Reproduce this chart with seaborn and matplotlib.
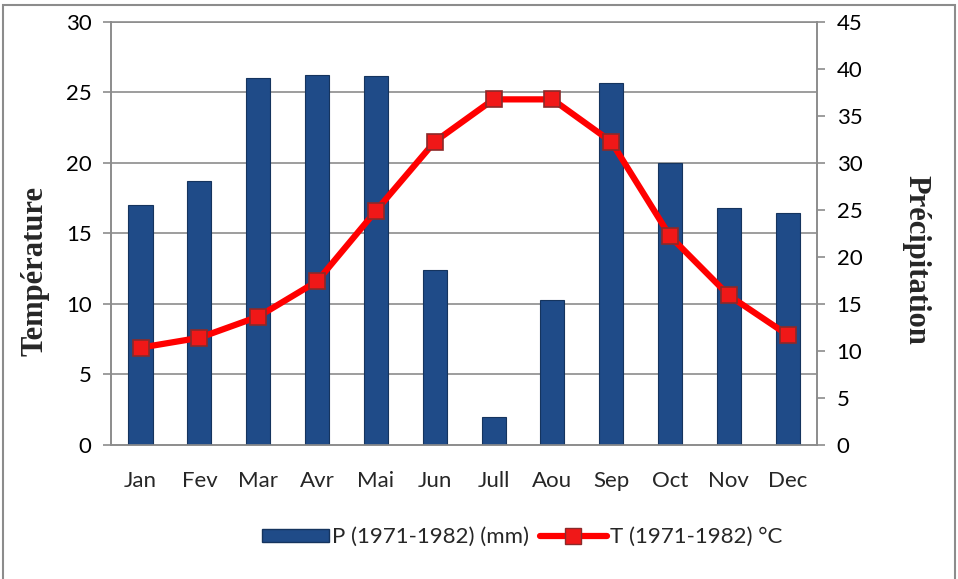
import numpy as np
import pandas as pd
import matplotlib
matplotlib.use("Agg")
import matplotlib.pyplot as plt
import matplotlib.patches as mpatches
from matplotlib.lines import Line2D
import seaborn as sns

months = ["Jan", "Fev", "Mar", "Avr", "Mai", "Jun", "Jull", "Aou", "Sep", "Oct", "Nov", "Dec"]
precip = [25.5, 28.1, 39.0, 39.3, 39.2, 18.6, 3.0, 15.4, 38.5, 30.0, 25.2, 24.7]
temp = [6.9, 7.6, 9.1, 11.6, 16.6, 21.5, 24.5, 24.5, 21.5, 14.8, 10.6, 7.8]
p_label = "P (1971-1982) (mm)"
t_label = "T (1971-1982) °C"

sns.set_style("white")
plt.rcParams['font.family'] = ['Lato', 'DejaVu Sans']

grey = "#8c8c8c"
bar_color = "#1f4b88"
bar_edge = "#15345e"
line_color = "#ff0000"

df = pd.DataFrame({"month": months, "precip": precip, "temp": temp})

fig = plt.figure(figsize=(9.58, 5.79), dpi=100)
ax = fig.add_axes([0.116, 0.2314, 0.737, 0.731])

# bars on the primary axis (precipitation, shown on the right)
sns.barplot(data=df, x="month", y="precip", color=bar_color, width=0.41,
            edgecolor=bar_edge, linewidth=0.8, saturation=1, ax=ax, zorder=3)
ax.set_ylim(0, 45)
ax.set_xlim(-0.5, len(months) - 0.5)

# grid lines follow the temperature scale (every 5 degC = 7.5 mm)
for v in np.arange(5, 31, 5):
    ax.axhline(v * 1.5, color=grey, lw=1.2, zorder=1)

# line on the twin axis (temperature, shown on the left)
ax2 = ax.twinx()
sns.lineplot(x=np.arange(len(months)), y=temp, ax=ax2, color=line_color,
             lw=4.5, marker="s", markersize=11, markerfacecolor="#f01818",
             markeredgecolor="#8b2a2a", markeredgewidth=1.2, zorder=4)
ax2.set_ylim(0, 30)
ax2.set_yticks(np.arange(0, 31, 5))
ax2.yaxis.tick_left()
ax2.yaxis.set_label_position("left")
ax2.set_ylabel("Température", va="center",
               fontfamily="Liberation Serif", fontweight="bold", fontsize=22)
ax2.yaxis.set_label_coords(-0.108, 0.41)

# swap sides after twinx, which resets them
ax.yaxis.tick_right()
ax.yaxis.set_label_position("right")
ax.set_yticks(np.arange(0, 46, 5))
ax.set_ylabel("Précipitation", rotation=-90, va="center",
              fontfamily="Liberation Serif", fontweight="bold", fontsize=22)
ax.yaxis.set_label_coords(1.14, 0.437)
ax.set_xlabel("")

for a in (ax, ax2):
    for s in a.spines.values():
        s.set_color(grey)
        s.set_linewidth(1.2)
    a.spines["top"].set_visible(False)
    a.tick_params(axis="y", colors=grey, labelcolor="black", labelsize=16,
                  length=6, width=1.2, direction="out", pad=8)

ax.spines["top"].set_visible(True)
ax.set_xticks(np.arange(len(months)))
ax.set_xticklabels(months)
ax.set_xticks(np.arange(-0.5, len(months)), minor=True)
ax.tick_params(axis="x", which="major", length=0, labelsize=16, pad=19)
ax.tick_params(axis="x", which="minor", length=6, width=1.2, colors=grey,
               direction="out")
ax2.tick_params(axis="x", length=0)

handles = [
    mpatches.Patch(facecolor=bar_color, edgecolor=bar_edge, label=p_label),
    Line2D([0], [0], color=line_color, lw=4.5, marker="s", markersize=11,
           markerfacecolor="#f01818", markeredgecolor="#8b2a2a", label=t_label),
]
fig.legend(handles=handles, loc="center", bbox_to_anchor=(0.545, 0.072), ncol=2,
           frameon=False, fontsize=16, handlelength=3.0, handleheight=0.5,
           handletextpad=0.15, columnspacing=0.5)

# outer chart frame
fig.add_artist(mpatches.Rectangle((0.003, -0.02), 0.994, 1.011, transform=fig.transFigure,
                                  fill=False, edgecolor=grey, lw=1.5))

fig.savefig("out.png", dpi=100)
